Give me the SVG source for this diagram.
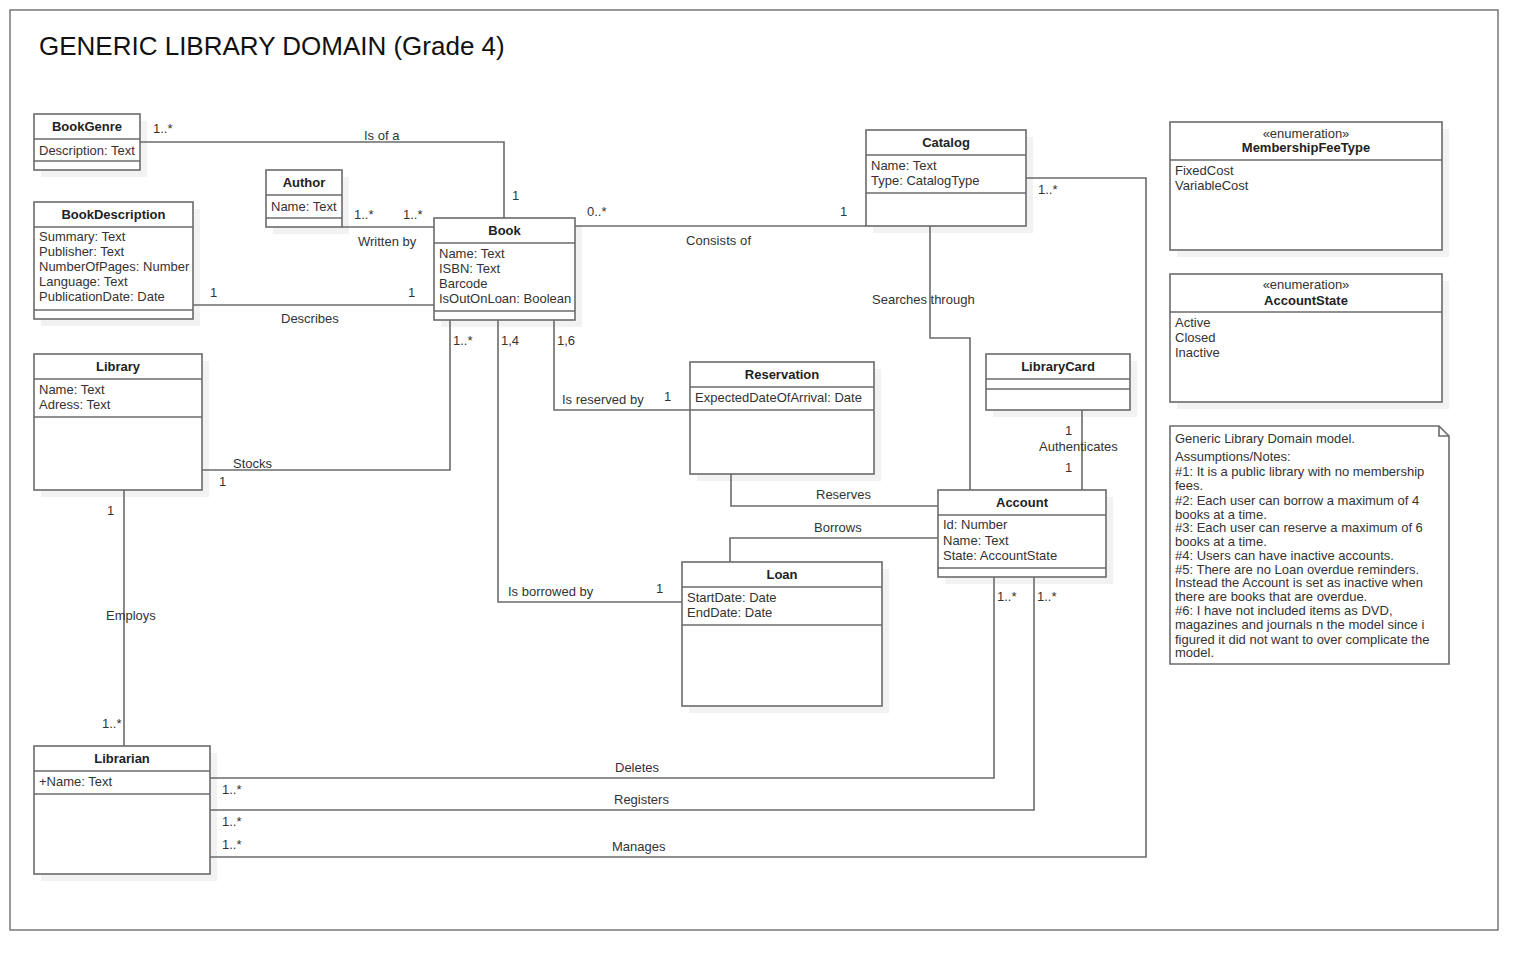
<svg xmlns="http://www.w3.org/2000/svg" width="1538" height="970" viewBox="0 0 1538 970">
<style>
.bg{fill:#fff}
.frame{fill:none;stroke:#777;stroke-width:1.5}
.box{fill:#fff;stroke:#6b6b6b;stroke-width:1.6}
.sh{fill:#f2f2f2}
.dv{stroke:#6b6b6b;stroke-width:1.6}
.cn{fill:none;stroke:#6b6b6b;stroke-width:1.6}
.nm{font-family:"Liberation Sans",Arial,sans-serif;font-size:13px;font-weight:bold;fill:#222;text-anchor:middle}
.st{font-family:"Liberation Sans",Arial,sans-serif;font-size:13px;fill:#333;text-anchor:middle}
.at{font-family:"Liberation Sans",Arial,sans-serif;font-size:13px;fill:#333}
.lb{font-family:"Liberation Sans",Arial,sans-serif;font-size:13px;fill:#333}
.title{font-family:"Liberation Sans",Arial,sans-serif;font-size:26px;fill:#111}
</style>
<rect class="bg" x="0" y="0" width="1538" height="970"/>
<rect class="frame" x="10" y="10" width="1488" height="920"/>
<text class="title" x="39" y="55">GENERIC LIBRARY DOMAIN (Grade 4)</text>

<g id="BookGenre">
<rect class="sh" x="41" y="121" width="106" height="56"/>
<rect class="box" x="34" y="114" width="106" height="56"/>
<line class="dv" x1="34" y1="139" x2="140" y2="139"/>
<line class="dv" x1="34" y1="161" x2="140" y2="161"/>
<text class="nm" x="87" y="131">BookGenre</text>
<text class="at" x="39" y="154.5">Description: Text</text>
</g>

<g id="Author">
<rect class="sh" x="273" y="177" width="76" height="57"/>
<rect class="box" x="266" y="170" width="76" height="57"/>
<line class="dv" x1="266" y1="195" x2="342" y2="195"/>
<line class="dv" x1="266" y1="218" x2="342" y2="218"/>
<text class="nm" x="304" y="187">Author</text>
<text class="at" x="271" y="210.5">Name: Text</text>
</g>

<g id="BookDescription">
<rect class="sh" x="41" y="209" width="159" height="117"/>
<rect class="box" x="34" y="202" width="159" height="117"/>
<line class="dv" x1="34" y1="227" x2="193" y2="227"/>
<line class="dv" x1="34" y1="310" x2="193" y2="310"/>
<text class="nm" x="113.5" y="219">BookDescription</text>
<text class="at" x="39" y="241">Summary: Text</text>
<text class="at" x="39" y="256">Publisher: Text</text>
<text class="at" x="39" y="271">NumberOfPages: Number</text>
<text class="at" x="39" y="286">Language: Text</text>
<text class="at" x="39" y="301">PublicationDate: Date</text>
</g>

<g id="Book">
<rect class="sh" x="441" y="225" width="141" height="102"/>
<rect class="box" x="434" y="218" width="141" height="102"/>
<line class="dv" x1="434" y1="243" x2="575" y2="243"/>
<line class="dv" x1="434" y1="311" x2="575" y2="311"/>
<text class="nm" x="504.5" y="235">Book</text>
<text class="at" x="439" y="258">Name: Text</text>
<text class="at" x="439" y="273">ISBN: Text</text>
<text class="at" x="439" y="288">Barcode</text>
<text class="at" x="439" y="303">IsOutOnLoan: Boolean</text>
</g>

<g id="Catalog">
<rect class="sh" x="873" y="137" width="160" height="96"/>
<rect class="box" x="866" y="130" width="160" height="96"/>
<line class="dv" x1="866" y1="155" x2="1026" y2="155"/>
<line class="dv" x1="866" y1="193" x2="1026" y2="193"/>
<text class="nm" x="946" y="147">Catalog</text>
<text class="at" x="871" y="169.5">Name: Text</text>
<text class="at" x="871" y="185">Type: CatalogType</text>
</g>

<g id="MembershipFeeType">
<rect class="sh" x="1177" y="129" width="272" height="128"/>
<rect class="box" x="1170" y="122" width="272" height="128"/>
<line class="dv" x1="1170" y1="160" x2="1442" y2="160"/>
<text class="st" x="1306" y="138">«enumeration»</text>
<text class="nm" x="1306" y="152">MembershipFeeType</text>
<text class="at" x="1175" y="175">FixedCost</text>
<text class="at" x="1175" y="190">VariableCost</text>
</g>

<g id="AccountState">
<rect class="sh" x="1177" y="281" width="272" height="128"/>
<rect class="box" x="1170" y="274" width="272" height="128"/>
<line class="dv" x1="1170" y1="312" x2="1442" y2="312"/>
<text class="st" x="1306" y="289">«enumeration»</text>
<text class="nm" x="1306" y="304.5">AccountState</text>
<text class="at" x="1175" y="326.5">Active</text>
<text class="at" x="1175" y="341.5">Closed</text>
<text class="at" x="1175" y="357">Inactive</text>
</g>

<g id="Reservation">
<rect class="sh" x="697" y="369" width="184" height="112"/>
<rect class="box" x="690" y="362" width="184" height="112"/>
<line class="dv" x1="690" y1="387" x2="874" y2="387"/>
<line class="dv" x1="690" y1="410" x2="874" y2="410"/>
<text class="nm" x="782" y="379">Reservation</text>
<text class="at" x="695" y="402">ExpectedDateOfArrival: Date</text>
</g>

<g id="LibraryCard">
<rect class="sh" x="993" y="361" width="144" height="56"/>
<rect class="box" x="986" y="354" width="144" height="56"/>
<line class="dv" x1="986" y1="379" x2="1130" y2="379"/>
<line class="dv" x1="986" y1="389" x2="1130" y2="389"/>
<text class="nm" x="1058" y="371">LibraryCard</text>
</g>

<g id="Account">
<rect class="sh" x="945" y="497" width="168" height="87"/>
<rect class="box" x="938" y="490" width="168" height="87"/>
<line class="dv" x1="938" y1="515" x2="1106" y2="515"/>
<line class="dv" x1="938" y1="568" x2="1106" y2="568"/>
<text class="nm" x="1022" y="507">Account</text>
<text class="at" x="943" y="529">Id: Number</text>
<text class="at" x="943" y="544.5">Name: Text</text>
<text class="at" x="943" y="560">State: AccountState</text>
</g>

<g id="Loan">
<rect class="sh" x="689" y="569" width="200" height="144"/>
<rect class="box" x="682" y="562" width="200" height="144"/>
<line class="dv" x1="682" y1="587" x2="882" y2="587"/>
<line class="dv" x1="682" y1="625" x2="882" y2="625"/>
<text class="nm" x="782" y="579">Loan</text>
<text class="at" x="687" y="601.5">StartDate: Date</text>
<text class="at" x="687" y="617">EndDate: Date</text>
</g>

<g id="Library">
<rect class="sh" x="41" y="361" width="168" height="136"/>
<rect class="box" x="34" y="354" width="168" height="136"/>
<line class="dv" x1="34" y1="379" x2="202" y2="379"/>
<line class="dv" x1="34" y1="417" x2="202" y2="417"/>
<text class="nm" x="118" y="371">Library</text>
<text class="at" x="39" y="394">Name: Text</text>
<text class="at" x="39" y="408.5">Adress: Text</text>
</g>

<g id="Librarian">
<rect class="sh" x="41" y="753" width="176" height="128"/>
<rect class="box" x="34" y="746" width="176" height="128"/>
<line class="dv" x1="34" y1="771" x2="210" y2="771"/>
<line class="dv" x1="34" y1="794" x2="210" y2="794"/>
<text class="nm" x="122" y="763">Librarian</text>
<text class="at" x="39" y="785.5">+Name: Text</text>
</g>

<g id="Note">
<path class="box" d="M1170,426 H1439 L1449,436 V664 H1170 Z"/>
<path class="cn" d="M1439,426 V436 H1449"/>
<text class="at" x="1175" y="443">Generic Library Domain model.</text>
<text class="at" x="1175" y="460.5">Assumptions/Notes:</text>
<text class="at" x="1175" y="476">#1: It is a public library with no membership</text>
<text class="at" x="1175" y="490">fees.</text>
<text class="at" x="1175" y="504.5">#2: Each user can borrow a maximum of 4</text>
<text class="at" x="1175" y="518.5">books at a time.</text>
<text class="at" x="1175" y="532">#3: Each user can reserve a maximum of 6</text>
<text class="at" x="1175" y="545.5">books at a time.</text>
<text class="at" x="1175" y="559.5">#4: Users can have inactive accounts.</text>
<text class="at" x="1175" y="573.5">#5: There are no Loan overdue reminders.</text>
<text class="at" x="1175" y="587">Instead the Account is set as inactive when</text>
<text class="at" x="1175" y="601">there are books that are overdue.</text>
<text class="at" x="1175" y="615">#6: I have not included items as DVD,</text>
<text class="at" x="1175" y="629">magazines and journals n the model since i</text>
<text class="at" x="1175" y="643.5">figured it did not want to over complicate the</text>
<text class="at" x="1175" y="657">model.</text>
</g>

<g id="connectors">
<path class="cn" d="M140,142 H504 V218"/>
<path class="cn" d="M342,227 H434"/>
<path class="cn" d="M193,305 H434"/>
<path class="cn" d="M575,226 H866"/>
<path class="cn" d="M930,226 V338 H970 V490"/>
<path class="cn" d="M1026,178 H1146 V857 H210"/>
<path class="cn" d="M450,320 V470 H202"/>
<path class="cn" d="M498,320 V602 H682"/>
<path class="cn" d="M554,320 V410 H690"/>
<path class="cn" d="M731,474 V506 H938"/>
<path class="cn" d="M730,562 V538 H938"/>
<path class="cn" d="M1082,410 V490"/>
<path class="cn" d="M124,490 V746"/>
<path class="cn" d="M994,577 V778 H210"/>
<path class="cn" d="M1034,577 V810 H210"/>
<text class="lb" x="153" y="133">1..*</text>
<text class="lb" x="364" y="139.5">Is of a</text>
<text class="lb" x="512" y="199.5">1</text>
<text class="lb" x="354" y="219">1..*</text>
<text class="lb" x="403" y="219">1..*</text>
<text class="lb" x="358" y="246">Written by</text>
<text class="lb" x="210" y="297">1</text>
<text class="lb" x="408" y="297">1</text>
<text class="lb" x="281" y="323">Describes</text>
<text class="lb" x="587" y="216">0..*</text>
<text class="lb" x="840" y="216">1</text>
<text class="lb" x="686" y="244.5" textLength="65">Consists of</text>
<text class="lb" x="453" y="344.5">1..*</text>
<text class="lb" x="501" y="344.5">1,4</text>
<text class="lb" x="557" y="344.5">1,6</text>
<text class="lb" x="562" y="404">Is reserved by</text>
<text class="lb" x="664" y="400.5">1</text>
<text class="lb" x="1038" y="193.5">1..*</text>
<text class="lb" x="872" y="304">Searches through</text>
<text class="lb" x="1065" y="434.5">1</text>
<text class="lb" x="1039" y="451">Authenticates</text>
<text class="lb" x="1065" y="472">1</text>
<text class="lb" x="816" y="498.5">Reserves</text>
<text class="lb" x="814" y="532">Borrows</text>
<text class="lb" x="997" y="601">1..*</text>
<text class="lb" x="1037" y="601">1..*</text>
<text class="lb" x="233" y="468">Stocks</text>
<text class="lb" x="219" y="486">1</text>
<text class="lb" x="107" y="514.5">1</text>
<text class="lb" x="106" y="619.5">Employs</text>
<text class="lb" x="102" y="728">1..*</text>
<text class="lb" x="508" y="596">Is borrowed by</text>
<text class="lb" x="656" y="593">1</text>
<text class="lb" x="615" y="772">Deletes</text>
<text class="lb" x="614" y="804">Registers</text>
<text class="lb" x="612" y="851">Manages</text>
<text class="lb" x="222" y="794">1..*</text>
<text class="lb" x="222" y="825.5">1..*</text>
<text class="lb" x="222" y="848.5">1..*</text>
</g>
</svg>
